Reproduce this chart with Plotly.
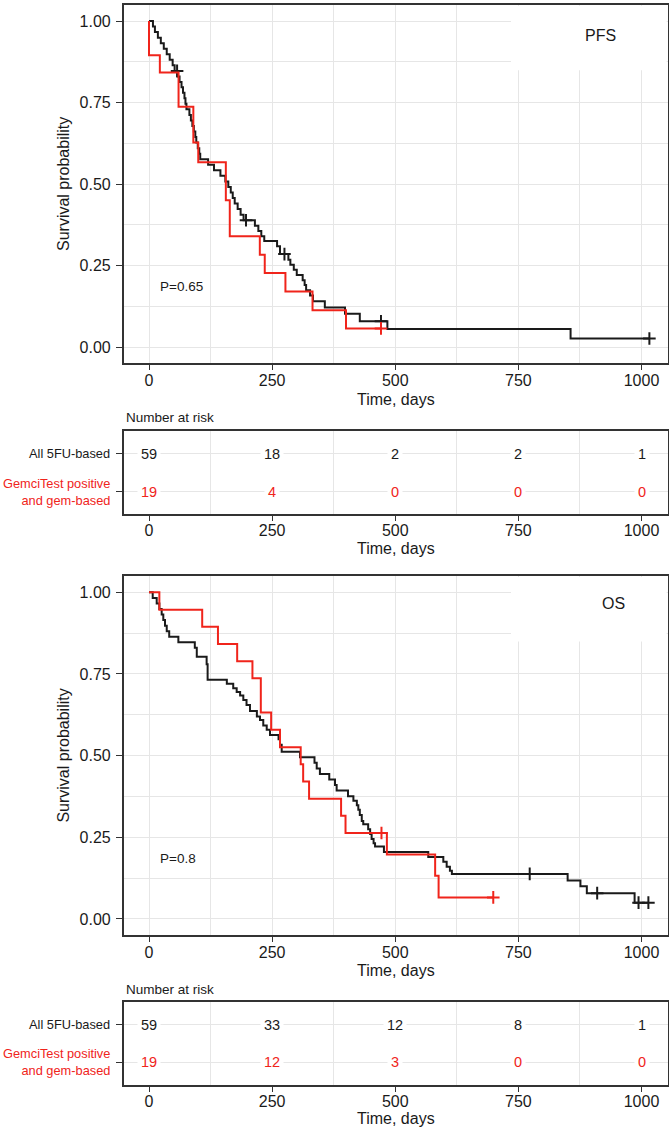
import plotly.graph_objects as go

# ---------------- data ----------------
time_ticks = [0, 250, 500, 750, 1000]
minor_time = [125, 375, 625, 875]
surv_ticks = [0.0, 0.25, 0.5, 0.75, 1.0]
surv_ticktext = ["0.00", "0.25", "0.50", "0.75", "1.00"]
minor_surv = [0.125, 0.375, 0.625, 0.875]

group_names = ["All 5FU-based", "GemciTest positive<br>and gem-based"]
x_title = "Time, days"
y_title = "Survival probability"

# PFS - All 5FU-based (black)
pfs_black_t = [0, 8, 12, 18, 24, 30, 36, 42, 48, 52, 58, 62, 66, 69, 72, 74, 76, 82, 85, 88,
               91, 94, 96, 99, 102, 104, 120, 132, 145, 155, 161, 166, 170, 174, 180, 186, 192, 215, 222, 228,
               234, 260, 266, 283, 287, 294, 300, 312, 316, 319, 327, 333, 357, 398, 428, 484, 856, 1016]
pfs_black_s = [1.0, .983, .966, .949, .932, .915, .898, .881, .864, .847, .830, .813, .797, .780, .763, .746, .729, .712, .695, .678,
               .661, .644, .627, .610, .593, .576, .559, .542, .525, .508, .491, .474, .457, .440, .423, .406, .389, .372, .356, .340,
               .325, .309, .285, .268, .252, .237, .221, .205, .190, .174, .158, .140, .121, .102, .079, .055, .026, .026]
pfs_black_cens_t = [57, 197, 275, 471, 1016]
pfs_black_cens_s = [.847, .389, .285, .079, .026]

# PFS - GemciTest positive and gem-based (red)
pfs_red_t = [0, 0, 22, 60, 90, 100, 156, 164, 225, 235, 277, 332, 400, 471]
pfs_red_s = [1.0, .895, .842, .737, .627, .567, .450, .340, .283, .227, .170, .113, .057, .057]
pfs_red_cens_t = [471]
pfs_red_cens_s = [.057]

# OS - All 5FU-based (black)
os_black_t = [0, 7.5, 15.6, 21, 25.7, 29, 32.5, 36, 41, 59.6, 93, 97, 117, 119, 158, 171, 178, 185, 191.5, 198,
              205, 219, 225.4, 232, 239, 245.7, 263, 266, 269.4, 306.6, 336, 340.5, 347, 366, 377.7, 381, 404, 415, 422, 425,
              428, 432, 435, 445, 449, 452, 456, 459, 477, 567, 597.6, 604.4, 611, 615, 850, 876, 889, 986, 1014]
os_black_s = [1.0, .983, .966, .949, .932, .915, .898, .881, .864, .847, .830, .803, .780, .732, .720, .706, .695, .684, .670, .655,
              .637, .620, .609, .592, .579, .563, .550, .533, .512, .495, .478, .461, .444, .427, .410, .393, .376, .362, .348, .334,
              .318, .300, .290, .275, .260, .245, .232, .222, .205, .190, .175, .160, .148, .138, .118, .100, .079, .050, .050]
os_black_cens_t = [773, 910, 994, 1014]
os_black_cens_s = [.138, .079, .050, .050]

# OS - GemciTest positive and gem-based (red)
os_red_t = [0, 21, 108, 140, 179, 210, 227, 248, 266, 308, 313, 325, 390, 399, 483, 581, 588, 699]
os_red_s = [1.0, .947, .895, .842, .789, .737, .632, .579, .526, .474, .421, .368, .316, .263, .197, .132, .066, .066]
os_red_cens_t = [472, 699]
os_red_cens_s = [.263, .066]

# Numbers at risk
pfs_risk_black = [59, 18, 2, 2, 1]
pfs_risk_red = [19, 4, 0, 0, 0]
os_risk_black = [59, 33, 12, 8, 1]
os_risk_red = [19, 12, 3, 0, 0]

pfs_pval = "P=0.65"
os_pval = "P=0.8"

# ---------------- style ----------------
BLACK = "#1a1a1a"
RED = "#f0241b"
GRID = "#e6e6e6"
AXC = "#333333"
FONT = "Liberation Sans, Arial, Helvetica, sans-serif"
W, H = 669, 1130


def py(p):
    return 1 - p / H


XDOM = [123.7 / W, 667.7 / W]
XMID = (XDOM[0] + XDOM[1]) / 2
X_RANGE = [-51.4, 1053.2]

fig = go.Figure()


def km(t, s, ct, cs, color, xa, ya):
    fig.add_trace(go.Scatter(x=t, y=s, mode="lines", line=dict(color=color, width=2, shape="hv"),
                             xaxis=xa, yaxis=ya, showlegend=False, hoverinfo="skip"))
    fig.add_trace(go.Scatter(x=ct, y=cs, mode="markers",
                             marker=dict(symbol="cross-thin", size=9, color=color, line=dict(color=color, width=2)),
                             xaxis=xa, yaxis=ya, showlegend=False, hoverinfo="skip"))


km(pfs_black_t, pfs_black_s, pfs_black_cens_t, pfs_black_cens_s, BLACK, "x", "y")
km(pfs_red_t, pfs_red_s, pfs_red_cens_t, pfs_red_cens_s, RED, "x", "y")
km(os_black_t, os_black_s, os_black_cens_t, os_black_cens_s, BLACK, "x3", "y3")
km(os_red_t, os_red_s, os_red_cens_t, os_red_cens_s, RED, "x3", "y3")

common_x = dict(domain=XDOM, range=X_RANGE, tickvals=time_ticks, ticktext=[str(v) for v in time_ticks],
                ticks="outside", ticklen=5, tickwidth=1.2, tickcolor=AXC, showline=True, mirror=True,
                linecolor=AXC, linewidth=1.6, zeroline=False, automargin=False, ticklabelstandoff=-3,
                tickfont=dict(size=16, color=BLACK, family=FONT))
km_x = dict(common_x, showgrid=True, gridcolor=GRID, gridwidth=1.1,
            minor=dict(tickvals=minor_time, showgrid=True, gridcolor=GRID, gridwidth=0.8, ticks=""))
tab_x = dict(common_x, showgrid=False, ticklabelstandoff=-4,
             minor=dict(tickvals=minor_time, showgrid=True, gridcolor=GRID, gridwidth=0.8, ticks=""))

km_y = dict(range=[-0.05, 1.05], tickvals=surv_ticks, ticktext=surv_ticktext, ticks="outside", ticklen=6,
            tickwidth=1.2, tickcolor=AXC, showline=True, mirror=True, linecolor=AXC, linewidth=1.6,
            zeroline=False, automargin=False, showgrid=True, gridcolor=GRID, gridwidth=1.1,
            ticklabelstandoff=2,
            minor=dict(tickvals=minor_surv, showgrid=True, gridcolor=GRID, gridwidth=0.8, ticks=""),
            tickfont=dict(size=16, color=BLACK, family=FONT))
tab_y = dict(range=[0.4, 2.6], tickvals=[1, 2], ticktext=["", ""], ticks="outside", ticklen=6,
             tickwidth=1.2, tickcolor=AXC, showline=True, mirror=True, linecolor=AXC, linewidth=1.6,
             zeroline=False, automargin=False, showgrid=True, gridcolor=GRID, gridwidth=1.1)

fig.update_layout(
    width=W, height=H, margin=dict(l=0, r=0, t=0, b=0),
    paper_bgcolor="white", plot_bgcolor="white",
    font=dict(family=FONT, color=BLACK),
    showlegend=False,
    xaxis=dict(km_x, anchor="y"),
    yaxis=dict(km_y, domain=[py(363.3), py(4.7)], anchor="x"),
    xaxis2=dict(tab_x, anchor="y2"),
    yaxis2=dict(tab_y, domain=[py(514.3), py(430.7)], anchor="x2"),
    xaxis3=dict(km_x, anchor="y3"),
    yaxis3=dict(km_y, domain=[py(935.3), py(576)], anchor="x3"),
    xaxis4=dict(tab_x, anchor="y4"),
    yaxis4=dict(tab_y, domain=[py(1085), py(1002.3)], anchor="x4"),
)

# white label boxes in the upper-right corners (hide the grid behind PFS / OS labels)
for top in (5.8, 577.1):
    fig.add_shape(type="rect", xref="paper", yref="paper", x0=511 / W, x1=666.6 / W,
                  y0=py(top + 64.5), y1=py(top), fillcolor="white", line=dict(width=0), layer="above")

ann = []
ann.append(dict(x=916, y=0.956, xref="x", yref="y", text="PFS", showarrow=False,
                font=dict(size=16, color=BLACK)))
ann.append(dict(x=944, y=0.966, xref="x3", yref="y3", text="OS", showarrow=False,
                font=dict(size=16, color=BLACK)))
ann.append(dict(x=18.5, y=0.186, xref="x", yref="y", text=pfs_pval, showarrow=False, xanchor="left",
                font=dict(size=13.5, color=BLACK)))
ann.append(dict(x=18.5, y=0.186, xref="x3", yref="y3", text=os_pval, showarrow=False, xanchor="left",
                font=dict(size=13.5, color=BLACK)))

# axis titles
for yp in (399.5, 548.5, 970.5, 1118):
    ann.append(dict(x=XMID, y=py(yp), xref="paper", yref="paper", text=x_title, showarrow=False,
                    xanchor="center", yanchor="middle", font=dict(size=16, color=BLACK)))
for yp in (184, 755.6):
    ann.append(dict(x=64 / W, y=py(yp), xref="paper", yref="paper", text=y_title, showarrow=False,
                    textangle=-90, xanchor="center", yanchor="middle", font=dict(size=16, color=BLACK)))

for ya, yp in [("y2", 417.7), ("y4", 989.3)]:
    ann.append(dict(x=XDOM[0], y=py(yp), xref="paper", yref="paper", text="Number at risk", showarrow=False,
                    xanchor="left", yanchor="middle", font=dict(size=13.5, color=BLACK)))
    ann.append(dict(x=111.8 / W, y=2, xref="paper", yref=ya, text=group_names[0], showarrow=False,
                    xanchor="right", yanchor="middle", align="right", font=dict(size=12.8, color=BLACK)))
    ann.append(dict(x=111.8 / W, y=1, xref="paper", yref=ya, text=group_names[1], showarrow=False,
                    xanchor="right", yanchor="middle", align="right", font=dict(size=12.8, color=RED)))

for xa, ya, rb, rr in [("x2", "y2", pfs_risk_black, pfs_risk_red), ("x4", "y4", os_risk_black, os_risk_red)]:
    for t, nb, nr in zip(time_ticks, rb, rr):
        ann.append(dict(x=t, y=2, xref=xa, yref=ya, text=str(nb), showarrow=False, bgcolor="white",
                        borderpad=3, font=dict(size=14.5, color=BLACK)))
        ann.append(dict(x=t, y=1, xref=xa, yref=ya, text=str(nr), showarrow=False, bgcolor="white",
                        borderpad=3, font=dict(size=14.5, color=RED)))

fig.update_layout(annotations=ann)
# remove the default 8px page margin so the 669x1130 figure fills the window exactly
fig.write_html("out.html", config={"displayModeBar": False},
               post_script="document.body.style.margin='0';document.body.style.overflow='hidden';")
